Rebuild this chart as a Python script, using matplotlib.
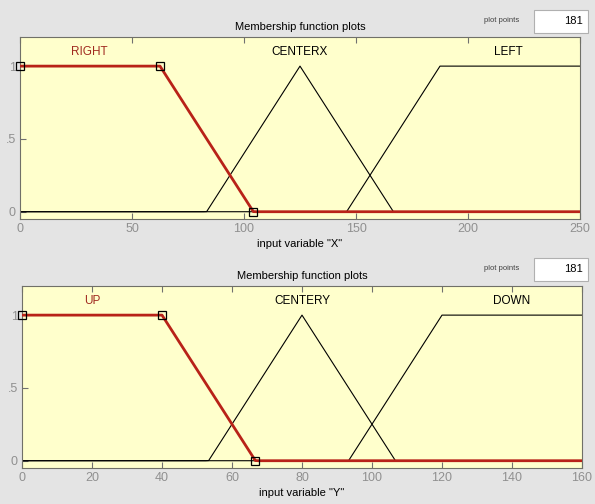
import numpy as np
import matplotlib.pyplot as plt
from matplotlib.patches import Rectangle

plt.rcParams['font.family'] = ['Liberation Sans', 'DejaVu Sans']

# input variable "X" (range 0..250), membership functions
x_range = [0, 250]
x_names = ['RIGHT', 'CENTERX', 'LEFT']
x_params = [[0, 0, 62.5, 104.2], [83.3, 125, 166.7], [145.8, 187.5, 250, 250]]
x_label_pos = [31, 125, 218]
x_ticks = [0, 50, 100, 150, 200, 250]

# input variable "Y" (range 0..160)
y_range = [0, 160]
y_names = ['UP', 'CENTERY', 'DOWN']
y_params = [[0, 0, 40, 66.7], [53.3, 80, 106.7], [93.3, 120, 160, 160]]
y_label_pos = [20, 80, 140]
y_ticks = [0, 20, 40, 60, 80, 100, 120, 140, 160]

n_points = 181


def mf(x, p):
    # trimf if 3 params, trapmf if 4
    if len(p) == 3:
        p = [p[0], p[1], p[1], p[2]]
    a, b, c, d = p
    y = np.ones_like(x)
    if b > a:
        y = np.where(x < b, (x - a) / (b - a), y)
    else:
        y = np.where(x < a, 0.0, y)
    if d > c:
        y = np.where(x > c, (d - x) / (d - c), y)
    else:
        y = np.where(x > d, 0.0, y)
    return np.clip(y, 0, 1)


def draw_panel(ax, rng, names, params, label_pos, ticks, varname, selected=0):
    ax.set_facecolor('#ffffcc')
    xs = np.linspace(rng[0], rng[1], n_points)
    for i, p in enumerate(params):
        if i != selected:
            ax.plot(xs, mf(xs, p), color='black', lw=0.8)
    p = params[selected]
    ax.plot(xs, mf(xs, p), color='#b82218', lw=2.0, zorder=3)
    # vertex markers of selected MF
    verts = sorted(set(p))
    ax.plot(verts, mf(np.array(verts, dtype=float), p), 's', ms=5.5,
            mfc='none', mec='black', mew=0.9, zorder=4, clip_on=False)
    for i, (name, lx) in enumerate(zip(names, label_pos)):
        ax.text(lx, 1.1, name, ha='center', va='center', fontsize=8.5,
                color='#a02a20' if i == selected else 'black')
    ax.set_xlim(rng)
    ax.set_ylim(-0.05, 1.2)
    ax.set_xticks(ticks)
    ax.set_yticks([0, 0.5, 1])
    ax.set_yticklabels(['0', '.5', '1'])
    ax.tick_params(direction='in', top=True, right=False, length=4,
                   colors='#707070', labelcolor='#909090', labelsize=9, pad=3)
    for s in ax.spines.values():
        s.set_color('#707068')
    ax.set_title('Membership function plots', fontsize=8, pad=5)
    ax.set_xlabel('input variable "%s"' % varname, fontsize=8, labelpad=3)


fig = plt.figure(figsize=(5.95, 5.04), dpi=100, facecolor='#e4e4e4')

ax1 = fig.add_axes([20 / 595, 1 - 219 / 504, 560 / 595, 182 / 504])
draw_panel(ax1, x_range, x_names, x_params, x_label_pos, x_ticks, 'X')

ax2 = fig.add_axes([22 / 595, 1 - 468 / 504, 560 / 595, 182 / 504])
draw_panel(ax2, y_range, y_names, y_params, y_label_pos, y_ticks, 'Y')

# "plot points" boxes
for top in [10, 258]:
    fig.text(502 / 595, 1 - (top + 11) / 504, 'plot points', fontsize=5.5,
             ha='center', va='center', color='#404040')
    fig.patches.append(Rectangle((534 / 595, 1 - (top + 23) / 504), 54 / 595, 23 / 504,
                                 transform=fig.transFigure, facecolor='white',
                                 edgecolor='#b0b0b0', lw=0.8))
    fig.text(583 / 595, 1 - (top + 11) / 504, '181', fontsize=8,
             ha='right', va='center')

fig.savefig('out.png', dpi=100, facecolor=fig.get_facecolor())
